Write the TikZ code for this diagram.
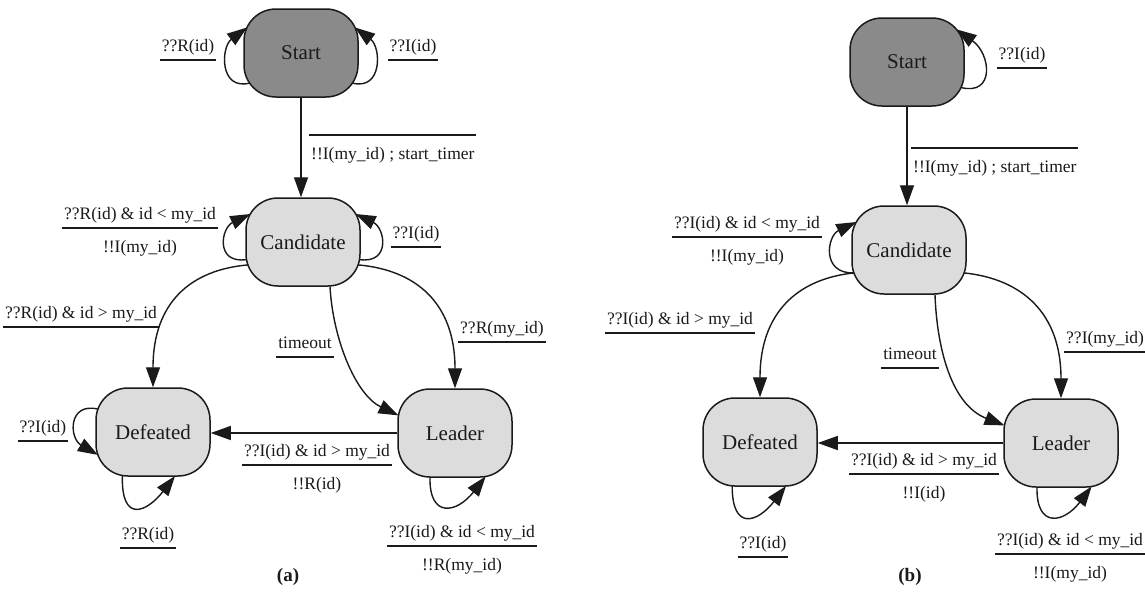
\documentclass[tikz,border=0pt]{standalone}
\usepackage{fontspec}
\setmainfont{Liberation Serif}
\usetikzlibrary{arrows.meta}
\definecolor{darkfill}{HTML}{8A8A8A}
\definecolor{lightfill}{HTML}{DCDCDC}
\definecolor{ink}{HTML}{1A1A1A}
\renewcommand{\arraystretch}{0}
\setlength{\arrayrulewidth}{1.2pt}
\newcommand{\numstrut}{\rule[-8pt]{0pt}{22pt}}
\newcommand{\denstrut}{\rule[-6pt]{0pt}{30pt}}
\newcommand{\ulab}[1]{\begin{tabular}{@{\hspace{2pt}}c@{\hspace{2pt}}}\numstrut#1\\\hline\end{tabular}}
\newcommand{\flab}[2]{\begin{tabular}{@{\hspace{2pt}}c@{\hspace{2pt}}}\numstrut#1\\\hline\denstrut#2\end{tabular}}
\newcommand{\tlab}[1]{\begin{tabular}{@{\hspace{2pt}}l@{\hspace{2pt}}}\hline\denstrut#1\end{tabular}}
\begin{document}
\begin{tikzpicture}[x=1pt,y=1pt,
  state/.style={draw=ink, line width=1.5pt, rounded corners=32pt, minimum width=114pt,
    minimum height=88pt, inner sep=0pt, text=ink, font=\fontsize{21}{24}\selectfont},
  startstate/.style={state, fill=darkfill},
  plainstate/.style={state, fill=lightfill},
  trans/.style={draw=ink, line width=1.4pt, -{Triangle[length=20pt,width=14pt]}},
  lab/.style={inner sep=0pt, text=ink, font=\fontsize{17.5}{20}\selectfont},
  captext/.style={inner sep=0pt, text=ink, font=\fontsize{19}{22}\selectfont\bfseries}]
\useasboundingbox[fill=white] (0,0) rectangle (1145,-595);

% ---------------- panel (a) ----------------
\node[startstate] (sA) at (301,-53) {Start};
\node[plainstate] (cA) at (303,-242) {Candidate};
\node[plainstate] (dA) at (153,-432) {Defeated};
\node[plainstate] (lA) at (455,-433) {Leader};

\draw[trans] (sA.south) -- (sA.south |- cA.north);
\draw[trans] ([shift={(-51,-30)}]sA.center) .. controls ([shift={(-82,-38)}]sA.center) and ([shift={(-80,6)}]sA.center) .. ([shift={(-54,25.5)}]sA.center);
\draw[trans] ([shift={(51,-30)}]sA.center) .. controls ([shift={(82,-38)}]sA.center) and ([shift={(80,6)}]sA.center) .. ([shift={(54,25.5)}]sA.center);

\draw[trans] ([shift={(-56.5,-17.6)}]cA.center) .. controls ([shift={(-88,-22)}]cA.center) and ([shift={(-82,14)}]cA.center) .. ([shift={(-52.7,28)}]cA.center);
\draw[trans] ([shift={(56.5,-17.6)}]cA.center) .. controls ([shift={(88,-22)}]cA.center) and ([shift={(82,14)}]cA.center) .. ([shift={(52.7,28)}]cA.center);

\draw[trans] ([shift={(-55.1,-22.9)}]cA.center) .. controls (190,-270) and (153,-303) .. (dA.north);
\draw[trans] ([shift={(55.1,-22.9)}]cA.center) .. controls (416,-270) and (455,-303) .. (lA.north);
\draw[trans] ([xshift=27pt]cA.south) .. controls (333,-340) and (356,-395) .. ([shift={(-56.5,17.6)}]lA.center);
\draw[trans] (lA.west) -- (lA.west -| dA.east);

\draw[trans] ([shift={(-55.1,22.9)}]dA.center) .. controls ([shift={(-85,30)}]dA.center) and ([shift={(-84,-6)}]dA.center) .. ([shift={(-55.1,-22.9)}]dA.center);
\draw[trans] ([shift={(-30.6,-43.5)}]dA.center) .. controls ([shift={(-32,-92)}]dA.center) and ([shift={(-6,-80)}]dA.center) .. ([shift={(22,-44)}]dA.center);
\draw[trans] ([shift={(-25,-44)}]lA.center) .. controls ([shift={(-26,-86)}]lA.center) and ([shift={(2,-80)}]lA.center) .. ([shift={(30.6,-43.5)}]lA.center);

\node[lab] (a1) at (188,-49) {\ulab{??R(id)}};
\node[lab] (a2) at (413,-49) {\ulab{??I(id)}};
\node[lab, anchor=west] (a3) at (309,-150) {\tlab{!!I(my\_id) ; start\_timer}};
\node[lab] (a4) at (140,-232) {\flab{??R(id) \& id < my\_id}{!!I(my\_id)}};
\node[lab] (a5) at (416,-236) {\ulab{??I(id)}};
\node[lab] (a6) at (81,-316) {\ulab{??R(id) \& id > my\_id}};
\node[lab] (a7) at (305,-346) {\ulab{timeout}};
\node[lab] (a8) at (502,-331) {\ulab{??R(my\_id)}};
\node[lab] (a9) at (317,-469) {\flab{??I(id) \& id > my\_id}{!!R(id)}};
\node[lab] (a10) at (462,-550) {\flab{??I(id) \& id < my\_id}{!!R(my\_id)}};
\node[lab] (a11) at (43,-430) {\ulab{??I(id)}};
\node[lab] (a12) at (148,-537) {\ulab{??R(id)}};
\node[captext] (capa) at (288,-577) {(a)};

% ---------------- panel (b) ----------------
\node[startstate] (sB) at (907,-62) {Start};
\node[plainstate] (cB) at (909,-250) {Candidate};
\node[plainstate] (dB) at (760,-442) {Defeated};
\node[plainstate] (lB) at (1061,-443) {Leader};

\draw[trans] (sB.south) -- (sB.south |- cB.north);
\draw[trans] ([shift={(54,-25.5)}]sB.center) .. controls ([shift={(88,-34)}]sB.center) and ([shift={(84,8)}]sB.center) .. ([shift={(49.5,32.6)}]sB.center);

\draw[trans] ([shift={(-55.1,-22.9)}]cB.center) .. controls ([shift={(-88,-24)}]cB.center) and ([shift={(-82,14)}]cB.center) .. ([shift={(-52.7,28)}]cB.center);
\draw[trans] ([shift={(-55.1,-22.9)}]cB.center) .. controls (797,-279) and (760,-313) .. (dB.north);
\draw[trans] ([shift={(55.1,-22.9)}]cB.center) .. controls (1022,-279) and (1061,-313) .. (lB.north);
\draw[trans] ([xshift=26pt]cB.south) .. controls (937,-350) and (952,-405) .. ([shift={(-56.5,17.6)}]lB.center);
\draw[trans] (lB.west) -- (lB.west -| dB.east);

\draw[trans] ([shift={(-27.8,-43.9)}]dB.center) .. controls ([shift={(-28,-90)}]dB.center) and ([shift={(-2,-80)}]dB.center) .. ([shift={(26,-44)}]dB.center);
\draw[trans] ([shift={(-24,-44)}]lB.center) .. controls ([shift={(-25,-86)}]lB.center) and ([shift={(3,-80)}]lB.center) .. ([shift={(30.6,-43.5)}]lB.center);

\node[lab] (b1) at (1022,-57) {\ulab{??I(id)}};
\node[lab, anchor=west] (b2) at (911,-163) {\tlab{!!I(my\_id) ; start\_timer}};
\node[lab] (b3) at (747,-241) {\flab{??I(id) \& id < my\_id}{!!I(my\_id)}};
\node[lab] (b4) at (680,-322) {\ulab{??I(id) \& id > my\_id}};
\node[lab] (b5) at (910,-357) {\ulab{timeout}};
\node[lab, anchor=west] (b6) at (1064,-341) {\ulab{??I(my\_id)}};
\node[lab] (b7) at (924,-478) {\flab{??I(id) \& id > my\_id}{!!I(id)}};
\node[lab] (b8) at (1070,-558) {\flab{??I(id) \& id < my\_id}{!!I(my\_id)}};
\node[lab] (b9) at (763,-546) {\ulab{??I(id)}};
\node[captext] (capb) at (910,-577) {(b)};
\end{tikzpicture}
\end{document}
